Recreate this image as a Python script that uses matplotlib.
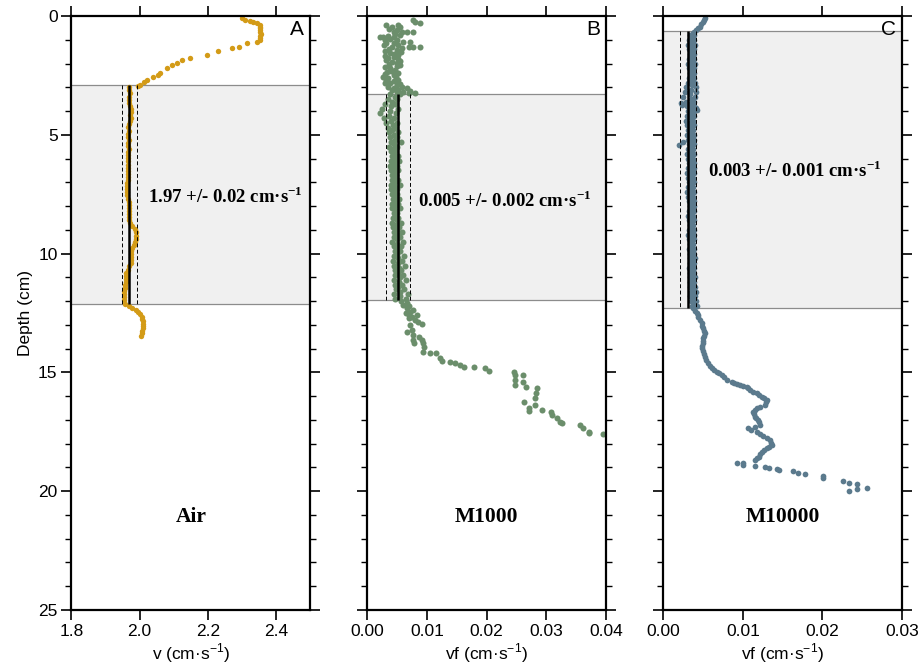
import matplotlib
matplotlib.use('Agg')
import matplotlib.pyplot as plt
from matplotlib.ticker import MultipleLocator, FixedLocator, FormatStrFormatter

plt.rcParams['font.family'] = ['Liberation Sans Narrow', 'Liberation Sans', 'DejaVu Sans']
plt.rcParams['mathtext.fontset'] = 'custom'
plt.rcParams['mathtext.rm'] = 'Liberation Serif:bold'
plt.rcParams['mathtext.bf'] = 'Liberation Serif:bold'
plt.rcParams['mathtext.sf'] = 'Liberation Sans'

# ---------------- Panel A (Air) ----------------
depth_a = [0.10, 0.15, 0.20, 0.24, 0.30, 0.38, 0.45, 0.52, 0.60, 0.68, 0.76, 0.84, 0.92, 1.01,
           1.08, 1.15, 1.30, 1.36, 1.46, 1.64, 1.78, 1.86, 1.97, 2.05, 2.20,
           2.40, 2.48, 2.58, 2.69, 2.78, 2.90, 2.95,
           3.00, 3.13, 3.26, 3.39, 3.52, 3.65, 3.78, 3.91, 4.04, 4.17, 4.30, 4.43, 4.56, 4.69,
           4.82, 4.95, 5.08, 5.21, 5.34, 5.47, 5.60, 5.73, 5.86, 5.99, 6.12, 6.25, 6.38, 6.51,
           6.64, 6.77, 6.90, 7.03, 7.16, 7.29, 7.42, 7.55, 7.68, 7.81, 7.94, 8.07, 8.20, 8.33,
           8.46, 8.59, 8.72, 8.85, 8.98, 9.11, 9.24, 9.37, 9.50, 9.63, 9.76, 9.89, 10.02, 10.15,
           10.28, 10.41, 10.54, 10.67, 10.80, 10.93, 11.06, 11.19, 11.32, 11.45, 11.58, 11.71,
           11.84, 11.97, 12.10,
           12.20, 12.28, 12.36, 12.45, 12.55, 12.65, 12.75, 12.85, 12.95, 13.05, 13.15, 13.25,
           13.35, 13.45]
v_a = [2.300, 2.310, 2.322, 2.333, 2.345, 2.353, 2.354, 2.354, 2.353, 2.354, 2.355, 2.354, 2.353, 2.352,
       2.344, 2.314, 2.290, 2.270, 2.230, 2.197, 2.148, 2.125, 2.109, 2.095, 2.079,
       2.060, 2.055, 2.040, 2.021, 2.012, 2.000, 1.996,
       1.969, 1.970, 1.971, 1.970, 1.968, 1.969, 1.973, 1.975, 1.974, 1.972, 1.974, 1.971, 1.968, 1.967,
       1.968, 1.966, 1.967, 1.968, 1.966, 1.967, 1.968, 1.967, 1.966, 1.967, 1.966, 1.965, 1.966, 1.967,
       1.966, 1.965, 1.965, 1.964, 1.963, 1.962, 1.962, 1.964, 1.967, 1.968, 1.969, 1.969, 1.968, 1.969,
       1.970, 1.970, 1.972, 1.978, 1.985, 1.988, 1.990, 1.989, 1.987, 1.984, 1.978, 1.976, 1.976, 1.975,
       1.976, 1.974, 1.970, 1.965, 1.961, 1.960, 1.959, 1.960, 1.958, 1.956, 1.955, 1.954,
       1.954, 1.955, 1.958,
       1.968, 1.978, 1.988, 1.995, 2.002, 2.006, 2.008, 2.009, 2.010, 2.010, 2.009, 2.008,
       2.006, 2.004]

# ---------------- Panel B (M1000) ----------------
depth_b_top = [0.17, 0.28, 0.24, 0.38, 0.38, 0.45, 0.45, 0.66, 0.66, 0.66, 0.66, 0.87, 0.90, 0.84,
               0.87, 0.80, 1.01, 1.08, 1.08, 1.29, 1.29, 1.29, 1.15, 1.29, 1.43, 1.57, 1.71, 1.85,
               1.92, 1.99, 2.13, 2.20, 2.27, 2.55, 2.62, 2.48, 2.69, 2.83, 2.90, 2.98, 3.04, 3.14,
               3.11, 3.19, 1.00, 1.20, 1.40, 1.50, 1.60, 1.75, 1.80, 2.00, 2.05, 2.35, 2.40, 2.70,
               2.75, 3.00, 3.20, 3.25,
               0.55, 0.60, 0.75, 0.95, 1.12, 1.22, 1.35, 1.48, 1.65, 1.68, 1.90, 2.10, 2.30, 2.45,
               2.58, 2.80, 2.88, 3.05, 3.10, 3.22]
vf_b_top = [0.0077, 0.0088, 0.0080, 0.0032, 0.0052, 0.0055, 0.0041, 0.0044, 0.0058, 0.0066, 0.0077,
            0.0021, 0.0027, 0.0035, 0.0044, 0.0055, 0.0049, 0.0060, 0.0072, 0.0088, 0.0069, 0.0077,
            0.0032, 0.0041, 0.0049, 0.0038, 0.0044, 0.0032, 0.0041, 0.0049, 0.0030, 0.0038, 0.0046,
            0.0027, 0.0035, 0.0044, 0.0052, 0.0038, 0.0049, 0.0058, 0.0066, 0.0072, 0.0041, 0.0060,
            0.0030, 0.0052, 0.0036, 0.0056, 0.0045, 0.0035, 0.0052, 0.0036, 0.0055, 0.0033, 0.0052,
            0.0032, 0.0045, 0.0034, 0.0050, 0.0070,
            0.0036, 0.0050, 0.0047, 0.0038, 0.0044, 0.0028, 0.0058, 0.0030, 0.0052, 0.0030, 0.0055,
            0.0050, 0.0040, 0.0030, 0.0048, 0.0030, 0.0055, 0.0045, 0.0052, 0.0080]
depth_b_mid = [3.3, 3.5, 3.7, 3.9, 4.1, 4.3, 4.5, 4.7, 4.9, 5.1, 5.3, 5.5, 5.7, 5.9, 6.1, 6.3,
               6.5, 6.7, 6.9, 7.1, 7.3, 7.5, 7.7, 7.9, 8.1, 8.3, 8.5, 8.7, 8.9, 9.1, 9.3, 9.5,
               9.7, 9.9, 10.1, 10.3, 10.5, 10.7, 10.9, 11.1, 11.3, 11.5, 11.7, 11.9]
vf_b_mid_left = [0.0038, 0.0034, 0.0030, 0.0025, 0.0022, 0.0028, 0.0032, 0.0035, 0.0036, 0.0038,
                 0.0040, 0.0037, 0.0039, 0.0041, 0.0040, 0.0038, 0.0040, 0.0042, 0.0041, 0.0039,
                 0.0040, 0.0042, 0.0043, 0.0041, 0.0042, 0.0044, 0.0043, 0.0041, 0.0043, 0.0045,
                 0.0044, 0.0042, 0.0044, 0.0046, 0.0045, 0.0043, 0.0045, 0.0047, 0.0046, 0.0044,
                 0.0046, 0.0048, 0.0045, 0.0047]
vf_b_mid_right = [0.0055, 0.0050, 0.0046, 0.0052, 0.0048, 0.0044, 0.0050, 0.0047, 0.0052, 0.0049,
                  0.0056, 0.0050, 0.0047, 0.0051, 0.0053, 0.0049, 0.0052, 0.0048, 0.0051, 0.0054,
                  0.0050, 0.0049, 0.0053, 0.0051, 0.0055, 0.0050, 0.0052, 0.0056, 0.0053, 0.0058,
                  0.0055, 0.0060, 0.0057, 0.0054, 0.0061, 0.0058, 0.0063, 0.0056, 0.0060, 0.0065,
                  0.0058, 0.0062, 0.0068, 0.0064]
depth_b_mid2 = [3.4, 3.6, 3.8, 4.0, 4.2, 4.4, 4.6, 4.8, 5.0, 5.2, 5.4, 5.6, 5.8, 6.0, 6.2, 6.4,
                6.6, 6.8, 7.0, 7.2, 7.4, 7.6, 7.8, 8.0, 8.2, 8.4, 8.6, 8.8, 9.0, 9.2, 9.4, 9.6,
                9.8, 10.0, 10.2, 10.4, 10.6, 10.8, 11.0, 11.2, 11.4, 11.6, 11.8, 12.0]
vf_b_mid_center = [0.0046, 0.0042, 0.0040, 0.0038, 0.0036, 0.0040, 0.0043, 0.0041, 0.0044, 0.0046,
                   0.0045, 0.0043, 0.0044, 0.0046, 0.0045, 0.0044, 0.0046, 0.0045, 0.0047, 0.0046,
                   0.0045, 0.0046, 0.0048, 0.0047, 0.0048, 0.0047, 0.0049, 0.0048, 0.0050, 0.0051,
                   0.0049, 0.0050, 0.0051, 0.0050, 0.0052, 0.0051, 0.0053, 0.0052, 0.0054, 0.0053,
                   0.0052, 0.0055, 0.0054, 0.0056]
depth_b_low = [12.09, 12.30, 12.44, 12.37, 12.58, 12.66, 12.58, 12.79, 12.87, 12.96, 13.29, 13.00,
               13.22, 13.43, 13.64, 13.78, 13.52, 13.64, 13.78, 13.92, 14.13, 14.17, 14.20, 14.41,
               14.52, 14.55, 14.62, 14.69, 14.76, 14.79, 14.83, 14.94, 14.97, 15.11, 15.32, 15.53,
               15.11, 15.39, 15.60, 15.67, 15.88, 16.09, 16.37, 16.23, 16.51, 16.61, 16.58, 16.65,
               16.79, 16.93, 17.07, 17.12, 17.21, 17.35, 17.50, 17.56, 17.61,
               12.15, 12.20, 12.50, 12.72]
vf_b_low = [0.0066, 0.0066, 0.0072, 0.0077, 0.0069, 0.0074, 0.0083, 0.0080, 0.0085, 0.0091, 0.0066,
            0.0072, 0.0074, 0.0076, 0.0077, 0.0078, 0.0087, 0.0091, 0.0094, 0.0095, 0.0094, 0.0105,
            0.0115, 0.0122, 0.0125, 0.0139, 0.0147, 0.0155, 0.0162, 0.0179, 0.0197, 0.0203, 0.0245,
            0.0247, 0.0247, 0.0247, 0.0261, 0.0261, 0.0266, 0.0284, 0.0283, 0.0281, 0.0281, 0.0262,
            0.0271, 0.0271, 0.0293, 0.0307, 0.0309, 0.0317, 0.0322, 0.0326, 0.0356, 0.0362, 0.0372,
            0.0372, 0.0394,
            0.0060, 0.0070, 0.0065, 0.0070]

# ---------------- Panel C (M10000) ----------------
depth_c_top = [0.10, 0.17, 0.24, 0.34, 0.45, 0.52, 0.59, 0.66, 0.73]
vf_c_top = [0.00523, 0.0051, 0.00502, 0.0048, 0.00461, 0.0044, 0.0041, 0.0039, 0.00377]
depth_c_mid = [0.8, 1.0, 1.2, 1.4, 1.6, 1.8, 2.0, 2.2, 2.4, 2.6, 2.8, 3.0, 3.2, 3.4, 3.6, 3.8,
               4.0, 4.2, 4.4, 4.6, 4.8, 5.0, 5.2, 5.4, 5.6, 5.8, 6.0, 6.2, 6.4, 6.6, 6.8, 7.0,
               7.2, 7.4, 7.6, 7.8, 8.0, 8.2, 8.4, 8.6, 8.8, 9.0, 9.2, 9.4, 9.6, 9.8, 10.0, 10.2,
               10.4, 10.6, 10.8, 11.0, 11.2, 11.4, 11.6, 11.8, 12.0, 12.2]
vf_c_mid_left = [0.0033, 0.0032, 0.0031, 0.0032, 0.0033, 0.0032, 0.0031, 0.0032, 0.0033, 0.0032,
                 0.0031, 0.0029, 0.0027, 0.0025, 0.0028, 0.0030, 0.0031, 0.0030, 0.0029, 0.0030,
                 0.0031, 0.0030, 0.0031, 0.0032, 0.0031, 0.0030, 0.0031, 0.0032, 0.0031, 0.0030,
                 0.0031, 0.0032, 0.0031, 0.0030, 0.0031, 0.0032, 0.0033, 0.0032, 0.0031, 0.0032,
                 0.0033, 0.0032, 0.0031, 0.0032, 0.0033, 0.0032, 0.0033, 0.0034, 0.0033, 0.0032,
                 0.0033, 0.0034, 0.0033, 0.0034, 0.0035, 0.0034, 0.0035, 0.0036]
vf_c_mid_right = [0.0038, 0.0039, 0.0040, 0.0039, 0.0038, 0.0039, 0.0040, 0.0039, 0.0038, 0.0039,
                  0.0040, 0.0041, 0.0041, 0.0040, 0.0039, 0.0038, 0.0039, 0.0038, 0.0037, 0.0038,
                  0.0037, 0.0038, 0.0039, 0.0038, 0.0037, 0.0038, 0.0037, 0.0038, 0.0039, 0.0038,
                  0.0037, 0.0038, 0.0037, 0.0038, 0.0037, 0.0038, 0.0039, 0.0038, 0.0037, 0.0038,
                  0.0037, 0.0038, 0.0039, 0.0038, 0.0037, 0.0038, 0.0039, 0.0040, 0.0039, 0.0038,
                  0.0039, 0.0040, 0.0039, 0.0040, 0.0041, 0.0040, 0.0041, 0.0042]
depth_c_mid2 = [0.9, 1.1, 1.3, 1.5, 1.7, 1.9, 2.1, 2.3, 2.5, 2.7, 2.9, 3.1, 3.3, 3.5, 3.7, 3.9,
                4.1, 4.3, 4.5, 4.7, 4.9, 5.1, 5.3, 5.5, 5.7, 5.9, 6.1, 6.3, 6.5, 6.7, 6.9, 7.1,
                7.3, 7.5, 7.7, 7.9, 8.1, 8.3, 8.5, 8.7, 8.9, 9.1, 9.3, 9.5, 9.7, 9.9, 10.1, 10.3,
                10.5, 10.7, 10.9, 11.1, 11.3, 11.5, 11.7, 11.9, 12.1]
vf_c_mid_center = [0.0036, 0.0035, 0.0036, 0.0035, 0.0034, 0.0035, 0.0036, 0.0035, 0.0036, 0.0035,
                   0.0036, 0.0035, 0.0034, 0.0035, 0.0034, 0.0035, 0.0034, 0.0035, 0.0034, 0.0035,
                   0.0034, 0.0035, 0.0034, 0.0035, 0.0034, 0.0035, 0.0034, 0.0035, 0.0034, 0.0035,
                   0.0034, 0.0035, 0.0034, 0.0035, 0.0034, 0.0035, 0.0036, 0.0035, 0.0034, 0.0035,
                   0.0036, 0.0035, 0.0036, 0.0035, 0.0036, 0.0035, 0.0036, 0.0037, 0.0036, 0.0035,
                   0.0036, 0.0037, 0.0036, 0.0037, 0.0038, 0.0037, 0.0038]
depth_c_out = [3.65, 3.75, 3.85, 3.95, 5.30, 5.43]
vf_c_out = [0.0022, 0.0024, 0.0041, 0.0042, 0.0025, 0.0020]
depth_c_low = [12.30, 12.40, 12.51, 12.58, 12.66, 12.80, 12.93, 13.04, 13.14, 13.25,
               13.35, 13.46, 13.56, 13.67, 13.78, 13.88, 13.99, 14.10, 14.22, 14.34,
               14.48, 14.62, 14.72, 14.83, 14.90, 14.97, 15.04, 15.11, 15.20, 15.32,
               15.39, 15.44, 15.49, 15.53, 15.57, 15.60, 15.67, 15.74, 15.81, 15.88,
               15.95, 16.02, 16.09, 16.16, 16.26, 16.37, 16.44, 16.51, 16.58, 16.65,
               16.75, 16.86, 16.93, 17.00, 17.10, 17.21, 17.29, 17.35, 17.42, 17.50,
               17.59, 17.68, 17.77, 17.85, 17.95, 18.06, 18.12, 18.19, 18.26, 18.34,
               18.45, 18.55, 18.62, 18.69,
               18.80, 18.80, 18.90, 18.94, 18.97, 19.01, 19.07, 19.11, 19.15, 19.22,
               19.28, 19.36, 19.46, 19.56, 19.67, 19.98, 19.70, 19.91, 19.85]
vf_c_low = [0.00377, 0.0040, 0.0042, 0.0043, 0.0044, 0.0046, 0.00482, 0.0049, 0.00502, 0.0051,
            0.00523, 0.0051, 0.00502, 0.0050, 0.00502, 0.0049, 0.00482, 0.0050, 0.0051, 0.00523,
            0.0054, 0.00565, 0.0059, 0.00608, 0.0064, 0.0067, 0.0070, 0.00733, 0.0076, 0.00796,
            0.00859, 0.0089, 0.00921, 0.00963, 0.0100, 0.01047, 0.0107, 0.01088, 0.0113, 0.01172,
            0.0120, 0.01235, 0.0127, 0.01298, 0.0129, 0.01277, 0.0122, 0.01172, 0.0115, 0.0113,
            0.0114, 0.01151, 0.0117, 0.01192, 0.0120, 0.01214, 0.01151, 0.01067, 0.0110, 0.01172,
            0.0121, 0.01255, 0.0130, 0.01339, 0.0135, 0.01361, 0.0133, 0.01298, 0.0126, 0.01235,
            0.0122, 0.01205, 0.0118, 0.01151,
            0.00921, 0.01004, 0.01004, 0.01151, 0.01277, 0.0133, 0.01423, 0.01456, 0.01624, 0.01694,
            0.01779, 0.02008, 0.02008, 0.02252, 0.02335, 0.02335, 0.02428, 0.02428, 0.02553]

# shaded (constant-velocity) zones and fitted mean +/- sd
zone_top = [2.90, 3.28, 0.63]
zone_bot = [12.12, 11.95, 12.29]
mean_v = [1.97, 0.0052, 0.0031]
sd_v = [0.021, 0.0020, 0.0010]
annot = ['1.97 +/- 0.02 cm\u00b7s$^{-1}$', '0.005 +/- 0.002 cm\u00b7s$^{-1}$',
         '0.003 +/- 0.001 cm\u00b7s$^{-1}$']
annot_depth = [7.6, 7.75, 6.5]
annot_xfrac = [0.32, 0.212, 0.187]
names = ['Air', 'M1000', 'M10000']
letters = ['A', 'B', 'C']
colors = ['#d39b17', '#6b8e6b', '#5b7a8d']
xlims = [(1.8, 2.5), (0.0, 0.04), (0.0, 0.03)]
xticks = [[1.8, 2.0, 2.2, 2.4], [0.0, 0.01, 0.02, 0.03, 0.04], [0.0, 0.01, 0.02, 0.03]]
xfmt = ['%.1f', '%.2f', '%.2f']
xlabels = ['v (cm\u00b7s$^{\\mathsf{-1}}$)', 'vf (cm\u00b7s$^{\\mathsf{-1}}$)',
           'vf (cm\u00b7s$^{\\mathsf{-1}}$)']

series = [
    (depth_a, v_a),
    (depth_b_top + depth_b_mid + depth_b_mid + depth_b_mid2 + depth_b_low,
     vf_b_top + vf_b_mid_left + vf_b_mid_right + vf_b_mid_center + vf_b_low),
    (depth_c_top + depth_c_mid + depth_c_mid + depth_c_mid2 + depth_c_out + depth_c_low,
     vf_c_top + vf_c_mid_left + vf_c_mid_right + vf_c_mid_center + vf_c_out + vf_c_low),
]
marker_sizes = [15, 19, 17]

fig = plt.figure(figsize=(9.22, 6.68), dpi=100)
lefts = [0.0775, 0.3984, 0.7194]
width = 0.2590
bottom, height = 0.0868, 0.8892

serif_bold = dict(family='Liberation Serif', weight='bold')

for i in range(3):
    ax = fig.add_axes([lefts[i], bottom, width, height])
    ax.set_xlim(*xlims[i])
    ax.set_ylim(25, 0)
    ax.axhspan(zone_top[i], zone_bot[i], color='#f0f0f0', zorder=0, lw=0)
    ax.axhline(zone_top[i], color='#8c8c8c', lw=0.9, zorder=1)
    ax.axhline(zone_bot[i], color='#8c8c8c', lw=0.9, zorder=1)
    d, v = series[i]
    ax.scatter(v, d, s=marker_sizes[i], color=colors[i], linewidths=0, zorder=2)
    ax.vlines(mean_v[i], zone_top[i], zone_bot[i], color='black', lw=1.8, zorder=3)
    for sgn in (-1, 1):
        ax.vlines(mean_v[i] + sgn * sd_v[i], zone_top[i], zone_bot[i], color='black',
                  lw=0.7, linestyles=(0, (4, 2.5)), zorder=3)
    ax.text(annot_xfrac[i], annot_depth[i], annot[i], transform=ax.get_yaxis_transform(),
            ha='left', va='center', fontsize=13.5, **serif_bold)
    ax.text(0.5, 21.1, names[i], transform=ax.get_yaxis_transform(), ha='center',
            va='center', fontsize=15.5, **serif_bold)
    ax.text(0.975, 0.993, letters[i], transform=ax.transAxes, ha='right', va='top',
            fontsize=15, family='Liberation Sans')

    ax.xaxis.set_major_locator(FixedLocator(xticks[i]))
    ax.xaxis.set_major_formatter(FormatStrFormatter(xfmt[i]))
    ax.yaxis.set_major_locator(MultipleLocator(5))
    ax.yaxis.set_minor_locator(MultipleLocator(1))
    ax.tick_params(axis='both', which='major', direction='out', length=7, width=1.2,
                   labelsize=12.5, top=True, right=True, pad=3)
    ax.tick_params(axis='y', which='minor', direction='out', length=4, width=1.0,
                   left=True, right=True)
    ax.tick_params(axis='x', which='minor', top=False, bottom=False)
    if i > 0:
        ax.tick_params(axis='y', labelleft=False)
    for sp in ax.spines.values():
        sp.set_linewidth(1.6)
    ax.set_xlabel(xlabels[i], fontsize=12.5, labelpad=2)
    if i == 0:
        ax.set_ylabel('Depth (cm)', fontsize=12.5, labelpad=4)

fig.savefig('out.png', dpi=100)
